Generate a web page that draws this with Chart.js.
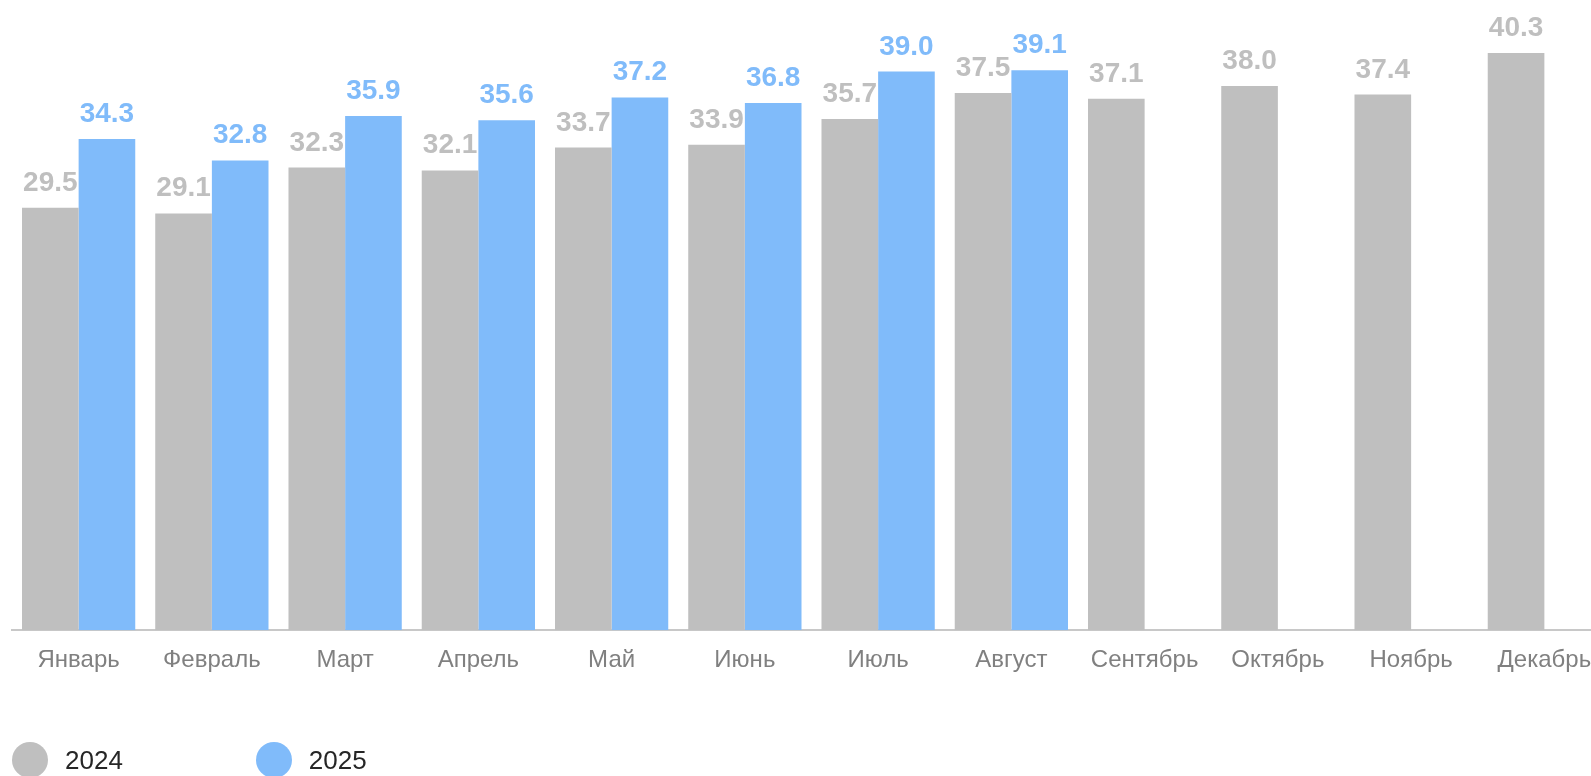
<!DOCTYPE html>
<html>
<head>
<meta charset="utf-8">
<script src="https://cdn.jsdelivr.net/npm/chart.js@4"></script>
<style>
  html, body { margin: 0; padding: 0; background: #fff; overflow: hidden; }
  #wrap { position: relative; width: 1612px; height: 776px; }
  #legend { position: absolute; left: 12px; top: 742px; display: flex; align-items: center;
            font-family: "Liberation Sans", Arial, sans-serif; font-size: 26px; color: #262626; }
  .item { display: flex; align-items: center; margin-right: 133px; }
  .dot { width: 36px; height: 36px; border-radius: 50%; margin-right: 17px; }
</style>
</head>
<body>
<div id="wrap">
  <canvas id="chartMeses"></canvas>
  <div id="legend"></div>
</div>
<script>
// Месячные значения 2024 и 2025, подписи над столбцами
const meses = ["Январь", "Февраль", "Март", "Апрель", "Май", "Июнь", "Июль", "Август", "Сентябрь", "Октябрь", "Ноябрь", "Декабрь"];
const valores2024 = [29.5, 29.1, 32.3, 32.1, 33.7, 33.9, 35.7, 37.5, 37.1, 38.0, 37.4, 40.3];
const valores2025 = [34.3, 32.8, 35.9, 35.6, 37.2, 36.8, 39.0, 39.1, null, null, null, null];
const series = ["2024", "2025"];
const colores = ["#bfbfbf", "#80bbfa"];

const etiquetas = {
  id: "etiquetas",
  afterDatasetsDraw(chart) {
    const c = chart.ctx;
    c.save();
    c.font = "bold 28px 'Liberation Sans', Arial, sans-serif";
    c.textAlign = "center";
    c.textBaseline = "alphabetic";
    chart.data.datasets.forEach((ds, i) => {
      c.fillStyle = ds.backgroundColor;
      chart.getDatasetMeta(i).data.forEach((bar, j) => {
        if (ds.data[j] == null) return;
        c.fillText(ds.data[j].toFixed(1), bar.x, bar.y - 17);
      });
    });
    c.restore();
  }
};

const ctx = document.getElementById("chartMeses");

const chart = new Chart(ctx, {
  type: "bar",
  data: {
    labels: meses,
    datasets: [
      { label: series[0], data: valores2024, backgroundColor: colores[0] },
      { label: series[1], data: valores2025, backgroundColor: colores[1] }
    ]
  },
  options: {
    responsive: true,
    maintainAspectRatio: false,
    animation: false,
    categoryPercentage: 0.85,
    barPercentage: 1,
    layout: { padding: { left: 12, right: 1, top: 0, bottom: 85 } },
    plugins: {
      legend: { display: false },
      tooltip: { enabled: false }
    },
    scales: {
      x: {
        grid: { display: false, drawTicks: false },
        border: { color: "#c8c8c8", width: 2 },
        ticks: {
          color: "#808080",
          padding: 16,
          font: { family: "'Liberation Sans', Arial, sans-serif", size: 24 }
        }
      },
      y: {
        display: false,
        beginAtZero: true,
        max: 44
      }
    }
  },
  plugins: [etiquetas]
});

// Легенда
const leg = document.getElementById("legend");
series.forEach((s, i) => {
  const it = document.createElement("div");
  it.className = "item";
  it.innerHTML = '<span class="dot" style="background:' + colores[i] + '"></span><span>' + s + '</span>';
  leg.appendChild(it);
});
</script>
</body>
</html>
